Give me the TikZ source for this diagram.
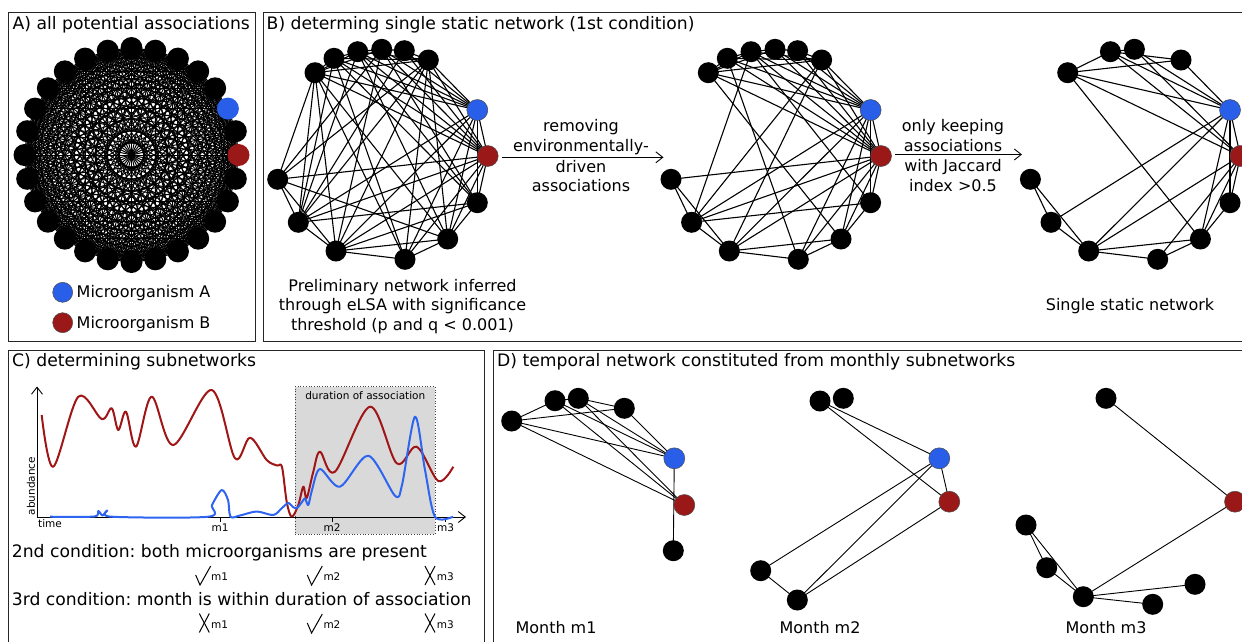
\documentclass[tikz,border=0pt]{standalone}
\usepackage{fontspec}
\setmainfont{DejaVu Sans}
\usetikzlibrary{arrows.meta,backgrounds}
\definecolor{mblue}{RGB}{40,94,232}
\definecolor{mred}{RGB}{155,24,24}
\definecolor{cblue}{RGB}{45,100,240}
\definecolor{cred}{RGB}{160,22,22}
\definecolor{boxgray}{RGB}{217,217,217}
\frenchspacing
\begin{document}
\begin{tikzpicture}[x=1pt,y=-1pt,
  panel/.style={draw=black!85,line width=0.9pt},
  anode/.style={circle,fill=black,inner sep=0pt,minimum size=22pt},
  ablue/.style={anode,fill=mblue},
  ared/.style={anode,fill=mred},
  bn/.style={circle,fill=black,inner sep=0pt,minimum size=21pt},
  bblue/.style={bn,fill=mblue,draw=black!70,line width=0.5pt},
  bred/.style={bn,fill=mred,draw=black!70,line width=0.5pt},
  aedge/.style={line width=1.0pt},
  bedge/.style={line width=1.1pt},
  dedge/.style={line width=0.9pt},
  title/.style={font=\fontsize{17.2}{20}\selectfont,inner sep=0pt,anchor=base west},
  body/.style={font=\fontsize{16}{19}\selectfont,inner sep=0pt,anchor=base},
  cond/.style={font=\fontsize{17.2}{20}\selectfont,inner sep=0pt,anchor=base west},
  small/.style={font=\fontsize{10.5}{12}\selectfont,inner sep=0pt},
  arr/.style={line width=0.9pt,-{Straight Barb[length=7pt,width=11pt]}},
  chk/.style={line width=1pt,line join=miter},
]
\useasboundingbox (0,0) rectangle (1242,641);
\clip (0,0) rectangle (1242,641);

% ---------- panel frames ----------
\draw[panel] (8,12) rectangle (255,341.5);
\draw[panel] (263.5,12) rectangle (1260,341.5);
\draw[panel] (8,350) rectangle (484.5,670);
\draw[panel] (493.5,350) rectangle (1260,670);

\node[title] (tA) at (12.5,29.5) {A) all potential associations};
\node[title] (tB) at (266.5,29.5) {B) determing single static network (1st condition)};
\node[title] (tC) at (12,366.5) {C) determining subnetworks};
\node[title] (tD) at (497,366.5) {D) temporal network constituted from monthly subnetworks};

% ---------- panel A ----------
\foreach \i in {1,3,4,...,27}
  \node[anode] (A\i) at ({131.5+107*cos(-\i*360/28)},{155+107*sin(-\i*360/28)}) {};
\node[ared] (A0) at ({131.5+107},155) {};
\node[ablue] (A2) at ({131.5+107*cos(-720/28)},{155+107*sin(-720/28)}) {};
\begin{scope}[on background layer]
\foreach \i in {0,...,26} {
  \pgfmathtruncatemacro\jn{\i+1}
  \foreach \j in {\jn,...,27} { \draw[aedge] (A\i.center) -- (A\j.center); }
}
\end{scope}
\node[bblue,minimum size=20pt] (legA) at (62.7,292.3) {};
\node[body,anchor=base west] (legAt) at (76.5,297.7) {Microorganism A};
\node[bred,minimum size=20pt] (legB) at (62.7,322.7) {};
\node[body,anchor=base west] (legBt) at (76.5,328) {Microorganism B};

% ---------- panel B networks ----------
\foreach \p/\dx in {P/0,Q/393.3} {
  \foreach \k/\x/\y in {1/315/72.7,2/334/58.3,3/357.7/51.7,4/381.7/49.3,5/404.3/50.7,6/428.3/60,9/477.3/202.7,10/447.7/239,11/405/259.3,12/336/251,13/298.3/222.3,14/277.7/179.3}
    \node[bn] (\p\k) at (\x+\dx,\y) {};
  \node[bblue] (\p7) at (477.3+\dx,110) {};
  \node[bred] (\p8) at (487.7+\dx,156) {};
}
\foreach \k/\x/\y in {1/315/72.7,3/357.7/51.7,4/381.7/49.3,6/428.3/60,9/477.3/202.7,10/447.7/239,11/405/259.3,12/336/251,13/298.3/222.3,14/277.7/179.3}
  \node[bn] (S\k) at (\x+752.7,\y) {};
\node[bblue] (S7) at (1230,110) {};
\node[bred] (S8) at (1240.4,156) {};

\begin{scope}[on background layer]
\foreach \u/\v in {1/3,1/6,1/7,1/8,1/10,3/4,3/6,3/7,3/8,4/7,4/8,6/7,7/8,7/9,7/10,7/13,7/12,8/9,8/10,8/11,8/12,9/10,10/11,10/12,11/12,12/13,12/14,13/14} {
  \draw[bedge] (P\u.center) -- (P\v.center);
  \draw[bedge] (Q\u.center) -- (Q\v.center);
  \draw[bedge] (S\u.center) -- (S\v.center);
}
\foreach \u/\v in {1/2,2/3,4/5,5/6,1/4,2/6,2/7,2/8,5/7,5/8,6/8,8/14,9/13,8/13,3/13,6/13,6/12,2/11,3/9,7/11} {
  \draw[bedge] (P\u.center) -- (P\v.center);
  \draw[bedge] (Q\u.center) -- (Q\v.center);
}
\foreach \u/\v in {1/14,6/14,4/14,10/14,1/13,2/13,5/13,1/12,4/12,1/11,6/11,3/10,2/9,6/10,4/9,9/12} {
  \draw[bedge] (P\u.center) -- (P\v.center);
}
\end{scope}

% arrows and texts of panel B
\coordinate (ar1s) at (502.3,157.3);
\coordinate (ar1e) at (663.5,157.3);
\draw[arr] (ar1s) -- (ar1e);
\node[body] (r1) at (581,131.5) {removing};
\node[body] (r2) at (581,151.5) {environmentally-};
\node[body] (r3) at (581,172) {driven};
\node[body] (r4) at (581,191.5) {associations};
\coordinate (ar2s) at (895,154.5);
\coordinate (ar2e) at (1022,154.5);
\draw[arr] (ar2s) -- (ar2e);
\node[body] (k1) at (953,131) {only keeping};
\node[body] (k2) at (953,151) {associations};
\node[body] (k3) at (953,171.5) {with Jaccard};
\node[body] (k4) at (953,191) {index >0.5};

\node[body] (pre1) at (402.5,291) {Preliminary network inferred};
\node[body] (pre2) at (402.5,310.5) {through eLSA with significance};
\node[body] (pre3) at (402.5,330) {threshold (p and q < 0.001)};
\node[body] (single) at (1130,310) {Single static network};

% ---------- panel C ----------
\node[draw=black!75,dotted,line width=0.7pt,fill=boxgray,inner sep=0pt,minimum width=140pt,minimum height=147.3pt] (dur) at (365,460.3) {};
\node[small,anchor=base] (durt) at (365.3,399.3) {duration of association};
\coordinate (org) at (37,517);
\coordinate (ytop) at (37,386.5);
\coordinate (xend) at (466,517);
\draw[arr] (org) -- (ytop);
\draw[arr] (org) -- (xend);
\coordinate (tk1) at (220,517);
\coordinate (tk2) at (332,517);
\coordinate (tk3) at (445.7,517);
\foreach \t in {tk1,tk2,tk3} \draw[line width=0.8pt] (\t) -- ++(0,5);
\node[small,anchor=base] (lm1) at (220,531.3) {m1};
\node[small,anchor=base] (lm2) at (332,531.3) {m2};
\node[small,anchor=base] (lm3) at (445.5,531.3) {m3};
\node[small,anchor=base west] (ltime) at (38,527.5) {time};
\node[small,rotate=90] (lab) at (31,486) {abundance};

\draw[cred,line width=2pt,line join=round] plot[smooth,tension=0.55] coordinates {
 (41.7,415) (53.3,466.7) (78.3,396.7) (101.7,419) (111.7,408.3) (118.3,430) (126,411.7) (136,446.7) (151.7,396.7) (173.3,445) (211.7,390) (235,458.3) (250,437.7) (266.7,460) (277,465.5) (282,467) (286.7,501.7) (291.7,516.7) (298.3,505) (303.3,486.7) (306.7,498) (313.3,471.7) (320,451.7) (335,471.7) (370,406.7) (396.7,463.3) (416.7,446.7) (438.3,481) (453.3,466.7)};
\draw[cblue,line width=2pt,line join=round] plot[smooth,tension=0.5] coordinates {
 (50,516.7) (94,516.5) (98.3,511) (102.5,515.5) (107.3,510.5) (111.7,516.7) (208.3,516.7) (212,505) (221.7,490) (228,500) (230.5,516.7) (240,515.5) (256.7,511.5) (273.3,515) (282,508) (288.3,503) (293,507) (297,508) (302,502) (305,498.3) (308.3,505) (312,490) (320,469) (340,486.7) (368.3,455.7) (395,495.7) (402,485) (415,416.7) (425,470) (435,516.7) (453,516.7)};

\node[cond] (c2) at (11.7,557.7) {2nd condition: both microorganisms are present};
\node[cond] (c3) at (11.7,605) {3rd condition: month is within duration of association};

% marks row 1
\coordinate (ck11) at (195.7,575);
\draw[chk] (ck11) -- ++(4.3,10) -- ++(10.7,-19);
\coordinate (ck12) at (307.3,575);
\draw[chk] (ck12) -- ++(4.3,10) -- ++(10.7,-19);
\coordinate (x13) at (430,575.5);
\draw[chk] (x13) ++(-5,-9.5) -- ++(10,19);
\draw[chk] (x13) ++(5,-9.5) -- ++(-10,19);
% marks row 2
\coordinate (x21) at (204.3,623);
\draw[chk] (x21) ++(-5,-9.5) -- ++(10,19);
\draw[chk] (x21) ++(5,-9.5) -- ++(-10,19);
\coordinate (ck22) at (307.3,623);
\draw[chk] (ck22) -- ++(4.3,10) -- ++(10.7,-19);
\coordinate (x23) at (430,623);
\draw[chk] (x23) ++(-5,-9.5) -- ++(10,19);
\draw[chk] (x23) ++(5,-9.5) -- ++(-10,19);
\node[small,anchor=base west] (n11) at (211,580) {m1};
\node[small,anchor=base west] (n12) at (323.3,580) {m2};
\node[small,anchor=base west] (n13) at (436.7,580) {m3};
\node[small,anchor=base west] (n21) at (211,628) {m1};
\node[small,anchor=base west] (n22) at (323.3,628) {m2};
\node[small,anchor=base west] (n23) at (436.7,628) {m3};

% ---------- panel D ----------
% month m1
\node[bn] (Da) at (511.7,421) {};
\node[bn] (Db) at (555,400.7) {};
\node[bn] (Dc) at (578.3,398.3) {};
\node[bn] (Dd) at (624.3,408.3) {};
\node[bblue] (DB) at (674.3,458.3) {};
\node[bred] (DR) at (684.3,505) {};
\node[bn] (De) at (673.3,550.7) {};
% month m2
\node[bn] (Ef) at (820,401) {};
\node[bn] (Eg) at (843.3,398.3) {};
\node[bn] (Eh) at (760.7,570.7) {};
\node[bn] (Ei) at (797.3,600) {};
\node[bblue] (EB) at (939.3,458.3) {};
\node[bred] (ER) at (949.3,501.7) {};
% month m3
\node[bn] (Fj) at (1106,398.3) {};
\node[bred] (FR) at (1235,501.7) {};
\node[bn] (Fk) at (1026,525) {};
\node[bn] (Fl) at (1046.7,567.7) {};
\node[bn] (Fm) at (1083.3,596.7) {};
\node[bn] (Fn) at (1152.7,604.3) {};
\node[bn] (Fo) at (1195,584.3) {};
\begin{scope}[on background layer]
\foreach \u/\v in {Da/Db,Da/Dd,Da/DB,Da/DR,Db/Dc,Dc/Dd,Db/DB,Db/DR,Dc/DB,Dc/DR,Dd/DB,DB/De,
                   Ef/EB,Ef/ER,Eh/EB,Eh/Ei,Ei/EB,Ei/ER,EB/ER,
                   Fj/FR,Fm/FR,Fk/Fl,Fk/Fm,Fl/Fm,Fm/Fn,Fm/Fo}
  \draw[dedge] (\u.center) -- (\v.center);
\end{scope}
\node[body] (mo1) at (556,633.3) {Month m1};
\node[body] (mo2) at (820,633.3) {Month m2};
\node[body] (mo3) at (1106,633.3) {Month m3};
\end{tikzpicture}
\end{document}
